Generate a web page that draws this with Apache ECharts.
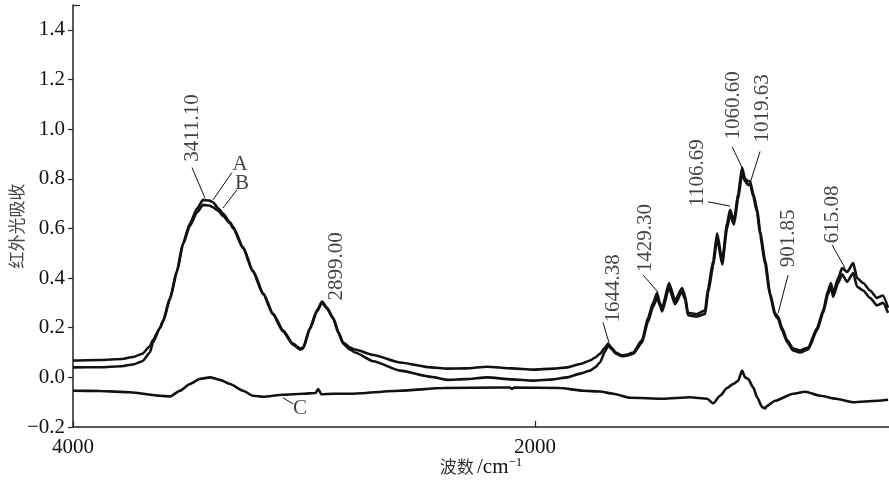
<!DOCTYPE html>
<html>
<head>
<meta charset="utf-8">
<script src="https://cdn.jsdelivr.net/npm/echarts@6/dist/echarts.min.js"></script>
<style>html,body{margin:0;padding:0;background:#fff;}#c{width:889px;height:484px;}</style>
</head>
<body>
<div id="c"></div>
<script>
// ---- data (wavenumber cm^-1, absorbance) ----
const curveA = [
  [4000,0.068],[3880,0.070],[3790,0.074],[3740,0.082],[3700,0.095],[3667,0.125],[3654,0.15],
  [3623,0.20],[3610,0.23],[3580,0.32],[3550,0.43],[3524,0.54],[3494,0.62],[3463,0.68],
  [3437,0.715],[3410,0.712],[3394,0.705],[3370,0.68],[3351,0.66],[3320,0.625],[3307,0.606],
  [3264,0.525],[3221,0.43],[3177,0.34],[3134,0.257],[3091,0.19],[3048,0.136],[3017,0.116],
  [3004,0.12],[2974,0.20],[2944,0.27],[2922,0.305],[2900,0.28],[2874,0.24],[2850,0.18],
  [2831,0.14],[2801,0.12],[2779,0.112],[2700,0.09],[2584,0.06],[2450,0.04],[2381,0.035],
  [2300,0.036],[2208,0.043],[2100,0.036],[2009,0.031],[1920,0.035],[1861,0.04],[1800,0.055],
  [1762,0.068],[1740,0.08],[1719,0.095],[1697,0.12],[1684,0.136],[1670,0.12],[1650,0.10],
  [1623,0.088],[1600,0.092],[1576,0.10],[1537,0.15],[1511,0.24],[1489,0.30],[1472,0.34],
  [1460,0.30],[1450,0.28],[1420,0.38],[1394,0.31],[1364,0.36],[1351,0.33],[1338,0.26],
  [1299,0.255],[1264,0.27],[1251,0.36],[1229,0.47],[1212,0.58],[1190,0.47],[1169,0.62],
  [1156,0.675],[1139,0.63],[1121,0.74],[1104,0.845],[1091,0.80],[1078,0.79],[1069,0.79],
  [1056,0.74],[1039,0.68],[1026,0.59],[1004,0.47],[983,0.34],[961,0.258],[948,0.245],
  [931,0.20],[909,0.15],[883,0.116],[853,0.108],[818,0.12],[779,0.20],[753,0.27],[732,0.35],
  [719,0.38],[710,0.34],[688,0.40],[671,0.44],[649,0.425],[623,0.46],[606,0.40],[580,0.38],
  [550,0.35],[520,0.32],[494,0.33],[472,0.28]
];
const curveB = [
  [4000,0.040],[3880,0.041],[3790,0.045],[3740,0.052],[3700,0.065],[3667,0.10],[3654,0.14],
  [3623,0.20],[3610,0.225],[3580,0.315],[3550,0.425],[3524,0.535],[3494,0.61],[3463,0.665],
  [3437,0.695],[3410,0.692],[3394,0.685],[3370,0.67],[3351,0.65],[3320,0.62],[3307,0.60],
  [3264,0.52],[3221,0.425],[3177,0.335],[3134,0.252],[3091,0.185],[3048,0.132],[3017,0.112],
  [3004,0.116],[2974,0.196],[2944,0.266],[2922,0.30],[2900,0.276],[2874,0.236],[2850,0.176],
  [2831,0.136],[2801,0.112],[2779,0.10],[2700,0.065],[2584,0.027],[2450,0.002],[2381,-0.01],
  [2300,-0.007],[2208,0.0],[2100,-0.008],[2009,-0.013],[1920,-0.008],[1861,0.0],[1805,0.015],
  [1762,0.027],[1740,0.04],[1719,0.06],[1697,0.105],[1684,0.128],[1670,0.115],[1650,0.095],
  [1623,0.085],[1600,0.088],[1576,0.095],[1537,0.14],[1511,0.225],[1489,0.285],[1472,0.32],
  [1460,0.29],[1450,0.265],[1420,0.36],[1394,0.295],[1364,0.345],[1351,0.315],[1338,0.25],
  [1299,0.245],[1264,0.255],[1251,0.34],[1229,0.45],[1212,0.56],[1190,0.455],[1169,0.60],
  [1156,0.655],[1139,0.615],[1121,0.72],[1104,0.82],[1091,0.79],[1078,0.775],[1069,0.78],
  [1056,0.73],[1039,0.665],[1026,0.575],[1004,0.455],[983,0.33],[961,0.25],[948,0.235],
  [931,0.19],[909,0.142],[883,0.108],[853,0.10],[818,0.112],[779,0.19],[753,0.26],[732,0.335],
  [719,0.365],[710,0.325],[688,0.38],[671,0.415],[649,0.385],[623,0.42],[606,0.365],[580,0.35],
  [550,0.32],[520,0.29],[494,0.30],[472,0.26]
];
const curveC = [
  [4000,-0.054],[3883,-0.055],[3753,-0.06],[3623,-0.074],[3580,-0.077],[3537,-0.054],
  [3494,-0.027],[3450,-0.006],[3407,0.0],[3364,-0.01],[3320,-0.027],[3264,-0.054],
  [3221,-0.074],[3177,-0.078],[3091,-0.07],[3004,-0.066],[2950,-0.063],[2939,-0.047],
  [2925,-0.068],[2874,-0.066],[2801,-0.066],[2584,-0.054],[2398,-0.043],[2152,-0.041],
  [2110,-0.041],[2100,-0.046],[2090,-0.041],[1892,-0.043],[1792,-0.054],[1719,-0.057],
  [1662,-0.066],[1589,-0.082],[1446,-0.086],[1329,-0.08],[1255,-0.086],[1229,-0.105],
  [1199,-0.074],[1169,-0.043],[1143,-0.027],[1121,-0.014],[1104,0.027],[1091,0.0],
  [1078,-0.006],[1056,-0.04],[1039,-0.08],[1017,-0.12],[1004,-0.125],[996,-0.115],
  [961,-0.094],[883,-0.066],[830,-0.058],[766,-0.074],[697,-0.086],[623,-0.10],
  [520,-0.094],[472,-0.09]
];
const yTicks = [-0.2, 0.0, 0.2, 0.4, 0.6, 0.8, 1.0, 1.2, 1.4];
const xTicks = [4000, 2000];
const peakTexts = ['3411.10','2899.00','1644.38','1429.30','1106.69','1060.60','1019.63','901.85','615.08'];
const peakAnchors = [[3481,0.869],[2861,0.31],[1662,0.221],[1524,0.423],[1299,0.687],[1143,0.958],[1017,0.946],[905,0.444],[714,0.54]];
const curveNames = ['A','B','C'];
const curveNameAnchors = [[3277,0.857],[3268,0.78],[3017,-0.127]];
const leaders = [
  [[3485,0.845],[3429,0.723]],
  [[3394,0.715],[3312,0.825]],
  [[3351,0.682],[3290,0.756]],
  [[3091,-0.082],[3048,-0.107]],
  [[1706,0.221],[1680,0.14]],
  [[1532,0.412],[1468,0.343]],
  [[1251,0.707],[1156,0.69]],
  [[1147,0.929],[1104,0.845]],
  [[1026,0.91],[1069,0.783]],
  [[905,0.412],[948,0.258]],
  [[714,0.533],[658,0.44]]
];

const serif = 'Liberation Serif';
const cjk = 'Noto Sans CJK SC';
const ink = '#111';

const chart = echarts.init(document.getElementById('c'), null, {renderer: 'canvas'});
const lineSeries = (name, data) => ({
  name, type: 'line', data, symbol: 'none', smooth: 0.2, smoothMonotone: 'x',
  lineStyle: {color: ink, width: 2.6}, z: 3, animation: false
});
chart.setOption({
  animation: false,
  grid: {left: 73, right: 0, top: 5, bottom: 57, containLabel: false, outerBoundsMode: 'none'},
  xAxis: {
    type: 'value', inverse: true, min: 468, max: 4000,
    splitLine: {show: false},
    axisLine: {show: true, onZero: false, lineStyle: {color: '#222', width: 1.5}},
    axisTick: {show: true, inside: true, length: 6, customValues: xTicks, lineStyle: {color: '#222', width: 1.2}},
    axisLabel: {show: true, customValues: xTicks, margin: 10, color: ink, fontFamily: serif, fontSize: 21,
      formatter: v => String(v)},
    name: '{a|波数} {b|/cm}{c|−1}',
    nameLocation: 'middle', nameGap: 29, nameMoveOverlap: false,
    nameTextStyle: {
      rich: {
        a: {fontFamily: cjk, fontSize: 17, color: '#333'},
        b: {fontFamily: serif, fontSize: 21, color: ink},
        c: {fontFamily: serif, fontSize: 13, color: ink, padding: [0, 0, 9, 0]}
      }
    }
  },
  yAxis: [{
    type: 'value', min: -0.2, max: 1.5,
    splitLine: {show: false},
    axisLine: {show: true, onZero: false, lineStyle: {color: '#222', width: 1.5}},
    axisTick: {show: true, inside: false, length: 5, customValues: yTicks, lineStyle: {color: '#222', width: 1.2}},
    axisLabel: {show: true, customValues: yTicks, margin: 8, color: ink, fontFamily: serif, fontSize: 21,
      formatter: v => v.toFixed(1).replace('-', '−')},
    name: '红外光吸收', nameLocation: 'middle', nameGap: 48, nameMoveOverlap: false,
    nameTextStyle: {fontFamily: cjk, fontSize: 17, color: '#444', padding: [0, 20, 0, 0]}
  }, {
    type: 'value', min: -0.2, max: 1.5, position: 'left',
    splitLine: {show: false}, axisLine: {show: false},
    axisTick: {show: true, inside: true, length: 7, customValues: [1.5], lineStyle: {color: '#222', width: 1.2}},
    axisLabel: {show: false}
  }],
  series: [
    lineSeries('A', curveA),
    lineSeries('B', curveB),
    lineSeries('C', curveC),
    {
      type: 'lines', coordinateSystem: 'cartesian2d', z: 4,
      data: leaders.map(c => ({coords: c})),
      lineStyle: {color: ink, width: 1, opacity: 1}, effect: {show: false}
    },
    {
      type: 'scatter', symbolSize: 0, z: 5, silent: true,
      data: peakAnchors.map((p, i) => ({value: p, name: peakTexts[i]})),
      label: {show: true, formatter: d => d.name, position: [0, 0], rotate: 90,
        align: 'left', verticalAlign: 'middle', color: ink, fontFamily: serif, fontSize: 21}
    },
    {
      type: 'scatter', symbolSize: 0, z: 5, silent: true,
      data: curveNameAnchors.map((p, i) => ({value: p, name: curveNames[i]})),
      label: {show: true, formatter: d => d.name, position: [0, 0],
        align: 'center', verticalAlign: 'middle', color: ink, fontFamily: serif, fontSize: 21}
    }
  ]
});
</script>
</body>
</html>
